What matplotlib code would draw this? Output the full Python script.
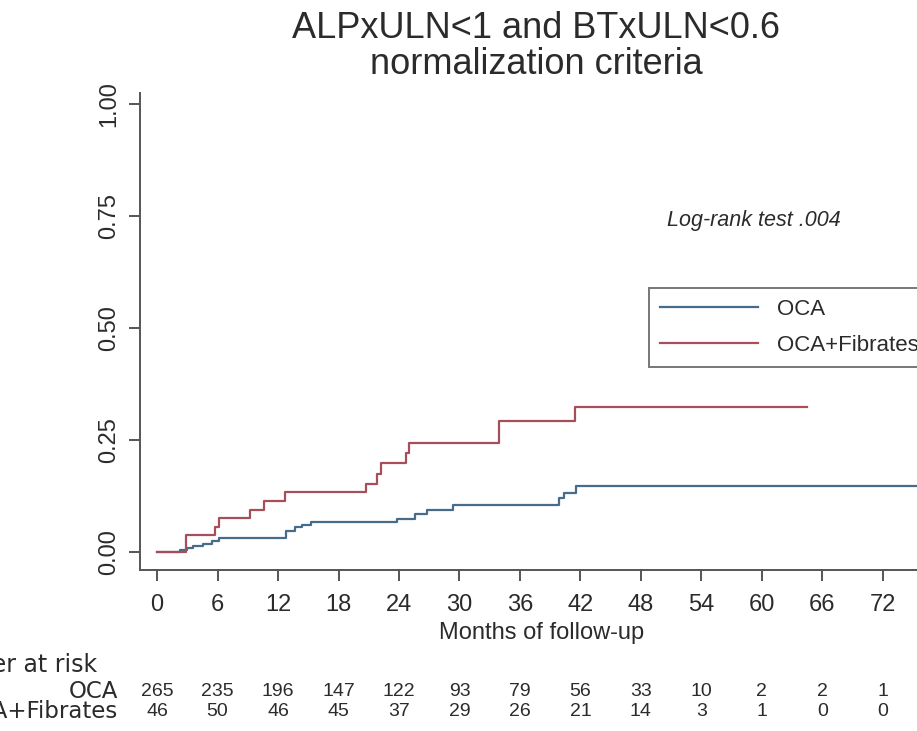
import matplotlib
matplotlib.use('Agg')
import matplotlib.pyplot as plt
import matplotlib.transforms as mtransforms

# Kaplan-Meier style step data
oca_t = [0, 2.3, 2.95, 3.6, 4.6, 5.4, 6.1, 12.8, 13.7, 14.4, 15.3, 23.8, 25.6, 26.8, 29.4, 39.9, 40.4, 41.6, 76]
oca_v = [0, 0.004, 0.009, 0.014, 0.019, 0.024, 0.032, 0.048, 0.055, 0.060, 0.068, 0.074, 0.085, 0.095, 0.105, 0.120, 0.131, 0.147, 0.147]

fib_t = [0, 2.9, 5.7, 6.1, 9.2, 10.6, 12.7, 20.7, 21.8, 22.2, 24.7, 25.0, 33.9, 41.5, 64.5]
fib_v = [0, 0.038, 0.057, 0.075, 0.094, 0.113, 0.133, 0.153, 0.174, 0.198, 0.221, 0.243, 0.293, 0.324, 0.324]

risk_months = [0, 6, 12, 18, 24, 30, 36, 42, 48, 54, 60, 66, 72]
risk_oca = [265, 235, 196, 147, 122, 93, 79, 56, 33, 10, 2, 2, 1]
risk_fib = [46, 50, 46, 45, 37, 29, 26, 21, 14, 3, 1, 0, 0]

y_ticks = [0, 0.25, 0.5, 0.75, 1.0]
y_labels = ['0.00', '0.25', '0.50', '0.75', '1.00']

plt.rcParams['font.family'] = ['Liberation Sans', 'DejaVu Sans']
txt = '#2b2b2b'
blue = '#466c8a'
red = '#a64e59'

W, H = 917, 731
fig = plt.figure(figsize=(W / 100, H / 100), dpi=100)
fig.patch.set_facecolor('white')

# axes placed in pixel terms; runs past the right edge like the cropped original
ax_l, ax_r, ax_t, ax_b = 140, 943.2, 93, 570
ax = fig.add_axes([ax_l / W, 1 - ax_b / H, (ax_r - ax_l) / W, (ax_b - ax_t) / H])
ax.set_xlim(-1.7, 78)
ax.set_ylim(-0.040, 1.0246)

ax.step(oca_t, oca_v, where='post', color=blue, lw=1.6, label='OCA')
ax.step(fib_t, fib_v, where='post', color=red, lw=1.6, label='OCA+Fibrates')

for s in ['top', 'right']:
    ax.spines[s].set_visible(False)
for s in ['left', 'bottom']:
    ax.spines[s].set_color('#555555')
    ax.spines[s].set_linewidth(1.4)

ax.set_xticks(risk_months)
ax.set_yticks(y_ticks)
ax.set_yticklabels(y_labels, rotation=90, va='center')
ax.tick_params(axis='both', colors='#555555', labelcolor=txt, labelsize=17,
               length=8, width=1.4, direction='out')
ax.tick_params(axis='x', pad=9)
ax.tick_params(axis='y', pad=6)

ax.set_xlabel('Months of follow-up', fontsize=17, color=txt, labelpad=4.5)

fig.text(536 / W, 1 - 28 / H, 'ALPxULN<1 and BTxULN<0.6', ha='center', va='center',
         fontsize=26, color=txt)
fig.text(536 / W, 1 - 64 / H, 'normalization criteria', ha='center', va='center',
         fontsize=26, color=txt)

fig.text(667 / W, 1 - 220 / H, 'Log-rank test .004', ha='left', va='center',
         fontsize=15.5, style='italic', color=txt)

leg = ax.legend(loc='upper left', bbox_to_anchor=(649 / W, 1 - 288 / H),
                bbox_transform=fig.transFigure, fontsize=16, frameon=True,
                fancybox=False, handlelength=4.4, handletextpad=0.85,
                labelspacing=0.65, borderpad=0.5, borderaxespad=0)
leg.get_frame().set_edgecolor('#555555')
leg.get_frame().set_linewidth(1.4)
for t in leg.get_texts():
    t.set_color(txt)

# number at risk table
tr = mtransforms.blended_transform_factory(ax.transData, fig.transFigure)
fig.text(-79 / W, 1 - 665 / H, 'Number at risk', ha='left', va='center',
         fontsize=17, family='DejaVu Sans', color=txt)
fig.text(118 / W, 1 - 691 / H, 'OCA', ha='right', va='center',
         fontsize=16.5, family='DejaVu Sans', color=txt)
fig.text(118 / W, 1 - 712 / H, 'OCA+Fibrates', ha='right', va='center',
         fontsize=16.5, family='DejaVu Sans', color=txt)
for m, a, b in zip(risk_months, risk_oca, risk_fib):
    ax.text(m, 1 - 691 / H, str(a), transform=tr, ha='center', va='center',
            fontsize=14, color=txt, clip_on=False)
    ax.text(m, 1 - 712 / H, str(b), transform=tr, ha='center', va='center',
            fontsize=14, color=txt, clip_on=False)

fig.savefig('out.png', dpi=100)
